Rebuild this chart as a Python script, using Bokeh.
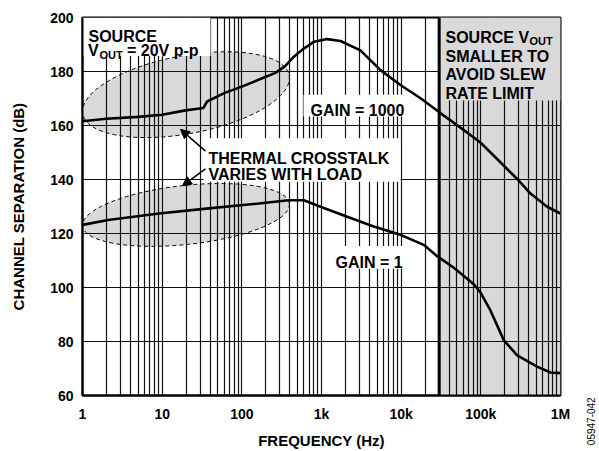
import numpy as np
from bokeh.plotting import figure
from bokeh.models import FixedTicker, Label, Arrow, NormalHead, Span
from bokeh.embed import file_html
from bokeh.resources import INLINE

# ---------------- data ----------------
FREQ_G1000 = [1, 2, 5, 10, 19.6, 33, 36.7, 60, 100, 180, 264, 350, 450, 600, 800,
              1180, 1730, 3080, 5500, 9800, 17500, 31100, 55600, 98900, 176000,
              286000, 420000, 680000, 1000000]
DB_G1000 = [161.6, 162.5, 163.2, 164.0, 165.6, 166.5, 168.9, 172.0, 174.4, 177.5,
            179.5, 182.0, 185.5, 188.5, 191.0, 192.0, 191.3, 187.8, 180.5, 175.0,
            170.1, 164.6, 159.2, 153.7, 146.4, 140.2, 134.8, 129.9, 127.4]

FREQ_G1 = [1, 2.1, 9.1, 38.5, 163, 388, 600, 971, 2100, 4530, 9800, 19200, 28300,
           45800, 81600, 98900, 132000, 194000, 286000, 509000, 748000, 1000000]
DB_G1 = [123.2, 125.0, 127.4, 129.3, 131.1, 132.3, 132.3, 129.9, 126.2, 122.6, 119.5,
         115.8, 111.6, 107.3, 101.2, 98.2, 91.5, 80.5, 74.9, 70.7, 68.5, 68.3]

X_TICKS = [1, 10, 100, 1000, 10000, 100000, 1000000]
X_TICK_LABELS = ["1", "10", "100", "1k", "10k", "100k", "1M"]
X_MINOR = [m * d for d in [1, 10, 100, 1000, 10000, 100000] for m in range(2, 10)]
Y_TICKS = [60, 80, 100, 120, 140, 160, 180, 200]
SLEW_FREQ = 30000

FONT = "Liberation Sans"
GRAY = "#d9d9d9"

# helpers: place annotations by their position in the 599x451 page
def fx(px):
    return 10 ** (6 * (px - 82.0) / 478.0)

def dy(py):
    return 200 - 140 * (py - 17.0) / 382.0

p = figure(width=599, height=451, x_axis_type="log", x_range=(1, 1e6), y_range=(60, 200),
           output_backend="svg", toolbar_location=None,
           min_border_left=82, min_border_right=39, min_border_top=17, min_border_bottom=52)

p.background_fill_color = "white"
p.border_fill_color = "white"
p.outline_line_color = "black"
p.outline_line_width = 2

xt = FixedTicker(ticks=X_TICKS, minor_ticks=X_MINOR)
yt = FixedTicker(ticks=Y_TICKS)
p.xaxis.ticker = xt
p.xgrid.ticker = xt
p.yaxis.ticker = yt
p.ygrid.ticker = yt
p.xaxis.major_label_overrides = {t: l for t, l in zip(X_TICKS, X_TICK_LABELS)}

for ax in (p.xaxis, p.yaxis):
    ax.axis_line_color = "black"
    ax.axis_line_width = 2
    ax.major_tick_line_color = None
    ax.minor_tick_line_color = None
    ax.major_tick_out = 0
    ax.major_tick_in = 0
    ax.minor_tick_out = 0
    ax.minor_tick_in = 0
    ax.major_label_text_font = FONT
    ax.major_label_text_font_style = "bold"
    ax.major_label_text_font_size = "14px"
    ax.major_label_text_color = "black"
    ax.axis_label_text_font = FONT
    ax.axis_label_text_font_style = "bold"
    ax.axis_label_text_font_size = "15px"
    ax.axis_label_text_color = "black"

p.xaxis.axis_label = "FREQUENCY (Hz)"
p.yaxis.axis_label = "CHANNEL SEPARATION (dB)"
p.xaxis.major_label_standoff = 10
p.xaxis.axis_label_standoff = 7
p.yaxis.major_label_standoff = 9
p.yaxis.axis_label_standoff = 20

p.xgrid.grid_line_color = "#111111"
p.xgrid.grid_line_width = 1.2
p.xgrid.minor_grid_line_color = "#111111"
p.xgrid.minor_grid_line_width = 1.2
p.ygrid.grid_line_color = "#111111"
p.ygrid.grid_line_width = 1.2

# shaded slew-rate region (under grid)
p.quad(left=[SLEW_FREQ], right=[1e6], bottom=[60], top=[200], fill_color=GRAY,
       line_color=None, level="image")

# ellipses (under grid)
p.ellipse(x=[fx(185.5)], y=[dy(95)], width=210, height=78, width_units="screen",
          height_units="screen", angle=np.radians(10.6), fill_color=GRAY,
          line_color="black", line_dash="4 3", line_width=1, level="image")
p.ellipse(x=[fx(185.5)], y=[dy(216.5)], width=208, height=59, width_units="screen",
          height_units="screen", angle=np.radians(6.2), fill_color=GRAY,
          line_color="black", line_dash="4 3", line_width=1, level="image")

# label backgrounds that hide the grid
def box(l, r, t, b, color="white"):
    p.quad(left=[fx(l)], right=[fx(r)], top=[dy(t)], bottom=[dy(b)],
           fill_color=color, line_color=None)

box(82, 210, 17, 56)
box(303, 406, 95, 117)
box(203, 400, 139, 183)
box(330, 403, 248, 271)
box(438, 560, 17, 101, GRAY)

# thick slew-rate boundary
p.add_layout(Span(location=SLEW_FREQ, dimension="height", line_color="black", line_width=3))

# curves
p.line(FREQ_G1000, DB_G1000, line_color="black", line_width=2.6)
p.line(FREQ_G1, DB_G1, line_color="black", line_width=2.6)

def lab(text, px, py, size=16, style="bold", align="left", baseline="alphabetic",
        angle=0.0, place="center"):
    p.add_layout(Label(x=fx(px), y=dy(py), text=text, text_font=FONT,
                       text_font_size=f"{size}px", text_font_style=style,
                       text_align=align, text_baseline=baseline, angle=angle,
                       text_color="black"), place)

lab("SOURCE", 88, 36.7)
lab("V", 87.5, 50.5)
lab("OUT", 99, 54.5, size=11)
lab("= 20V p-p", 126.5, 50.5)

lab("SOURCE V", 445, 37.5)
lab("OUT", 529, 41.2, size=11)
lab("SMALLER TO", 445, 56.5)
lab("AVOID SLEW", 445, 75)
lab("RATE LIMIT", 445, 93.3)

lab("THERMAL CROSSTALK", 208, 159.5)
lab("VARIES WITH LOAD", 208, 175.3)
lab("GAIN = 1000", 310, 111)
lab("GAIN = 1", 335, 265)

# figure id, outside the plot frame (side panel so that it is not clipped)
lab("05947-042", 590, 425, size=10, style="normal", align="center", baseline="middle",
    angle=np.pi / 2, place="right")

head = dict(size=9, fill_color="black", line_color="black")
p.add_layout(Arrow(end=NormalHead(**head), x_start=fx(205), y_start=dy(152),
                   x_end=fx(180), y_end=dy(130), line_width=1.5, line_color="black"))
p.add_layout(Arrow(end=NormalHead(**head), x_start=fx(205), y_start=dy(170),
                   x_end=fx(182), y_end=dy(187), line_width=1.5, line_color="black"))

open("out.html", "w").write(file_html(p, INLINE))
